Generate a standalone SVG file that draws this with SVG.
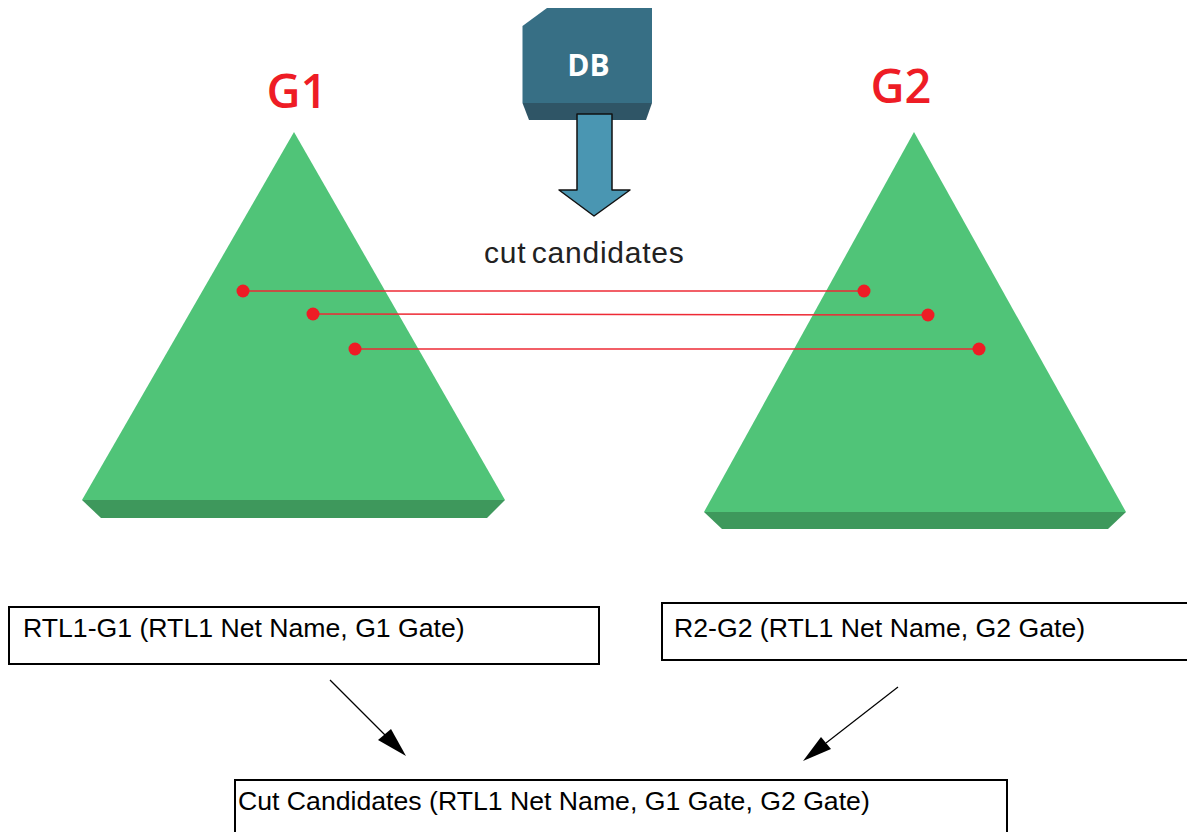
<svg xmlns="http://www.w3.org/2000/svg" width="1187" height="832" viewBox="0 0 1187 832">
<style>
.top{fill:#50c478}
.bev{fill:#3e985c}
.lbl{font-family:"Liberation Sans",Arial,sans-serif;font-size:26.65px;fill:#000}
.g{font-family:"Open Sans","Noto Sans",sans-serif;font-weight:600;font-size:47px;fill:#ee1c25}
.box{fill:#fff;stroke:#000;stroke-width:2}
.cut{stroke:#ee2a35;stroke-width:1.5;fill:none}
.dot{fill:#ee1c25}
.conn{stroke:#000;stroke-width:1.2;fill:none}
</style>
<rect width="1187" height="832" fill="#fff"/>
<g id="G1">
<polygon class="bev" points="82,500 505,500 487,518 101,518"/>
<polygon class="top" points="294,132 505,500 82,500"/>
<text class="g" x="297" y="108" text-anchor="middle">G1</text>
</g>
<g id="G2">
<polygon class="bev" points="704,512 1126,512 1108,529 722,529"/>
<polygon class="top" points="914,132 1126,512 704,512"/>
<text class="g" x="901" y="103" text-anchor="middle">G2</text>
</g>
<g id="DB">
<polygon fill="#2f5566" points="522.5,103 652,103 646,120 529,120"/>
<polygon fill="#376f85" points="547,8 652,8 652,103 522.5,103 522.5,26"/>
<text x="588.5" y="76" text-anchor="middle" font-family="'Open Sans','Noto Sans',sans-serif" font-weight="700" font-size="30" fill="#fff">DB</text>
</g>
<g id="db-arrow">
<polygon fill="#4a96b2" stroke="#111" stroke-width="1.5" stroke-linejoin="round" points="577,114 612,114 612,190 630,190 594,216 559,190 577,190"/>
</g>
<g id="cut-candidates-label">
<text x="484" y="262.5" font-family="'Liberation Sans',Arial,sans-serif" font-size="30" letter-spacing="0.75" word-spacing="-3.5" fill="#222">cut candidates</text>
</g>
<g id="connectors">
<line class="cut" x1="243" y1="291" x2="864" y2="291"/>
<line class="cut" x1="313" y1="314" x2="928" y2="315"/>
<line class="cut" x1="355" y1="349" x2="979" y2="349"/>
<circle class="dot" cx="243" cy="291" r="6.5"/>
<circle class="dot" cx="864" cy="291" r="6.5"/>
<circle class="dot" cx="313" cy="314" r="6.5"/>
<circle class="dot" cx="928" cy="315" r="6.5"/>
<circle class="dot" cx="355" cy="349" r="6.5"/>
<circle class="dot" cx="979" cy="349" r="6.5"/>
<line class="conn" x1="330" y1="680" x2="385" y2="735"/>
<polygon points="406,756 378,740 391,729"/>
<line class="conn" x1="898" y1="687" x2="826" y2="743"/>
<polygon points="803,761 821,737 831,749"/>
</g>
<g id="box-rtl1-g1">
<rect class="box" x="9" y="607" width="590" height="57"/>
<text class="lbl" x="23" y="637">RTL1-G1 (RTL1 Net Name, G1 Gate)</text>
</g>
<g id="box-r2-g2">
<rect class="box" x="662" y="603" width="540" height="57"/>
<text class="lbl" x="674" y="637">R2-G2 (RTL1 Net Name, G2 Gate)</text>
</g>
<g id="box-cut">
<rect class="box" x="235" y="780" width="772" height="70"/>
<text class="lbl" x="238" y="810">Cut Candidates (RTL1 Net Name, G1 Gate, G2 Gate)</text>
</g>
</svg>
